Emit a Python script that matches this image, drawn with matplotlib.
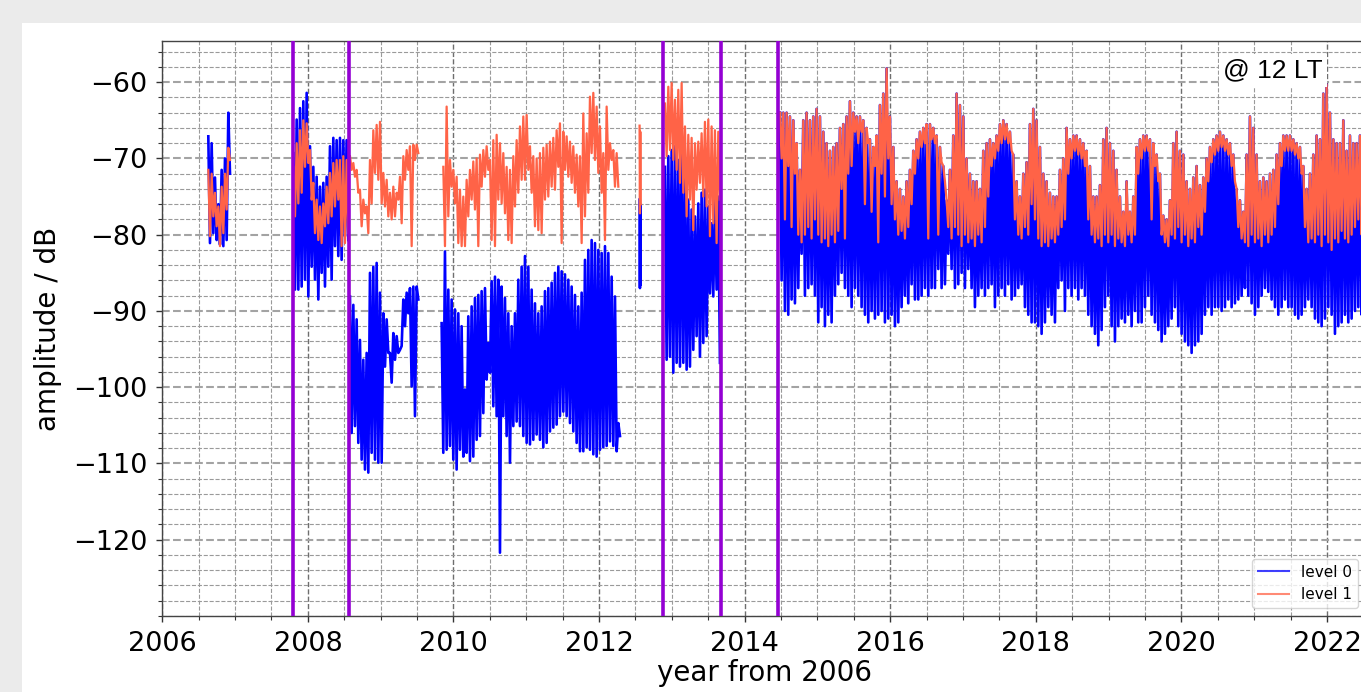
import numpy as np
import matplotlib
matplotlib.use("Agg")
import matplotlib.pyplot as plt
from matplotlib.patches import Rectangle
from matplotlib.ticker import MultipleLocator

# ---------------- data ----------------
# segment time spans (year)
seg_A = (2006.632, 2006.907)
seg_B = (2007.800, 2008.532)
seg_C = (2008.578, 2009.494)
seg_D0 = (2009.837, 2012.264)
seg_D1 = (2009.860, 2012.241)
seg_G = (2012.556, 2012.566)
seg_E = (2012.905, 2013.637)
seg_F = (2014.484, 2022.543)

event_years = [2007.791, 2008.569, 2012.873, 2013.670, 2014.462]

# level 0 (upper / lower excursions per sample)
l0_top_A = [-67.1, -68, -72.5, -76, -71.5, -70, -64]
l0_bot_A = [-81.1, -79.8, -80.7, -81.3, -81.5, -80.7, -72]
l1_top_A = [-71.5, -72, -74.5, -76.3, -73.7, -72, -68.6]
l1_bot_A = [-80.2, -77.6, -78.9, -81.5, -79.8, -76.7, -70.2]

l0_top_B = [-69.3, -64.9, -63.4, -62.5, -61.4, -68.4, -71.1, -72.4, -73.7, -73.2, -72.4, -68.4, -67.3, -67.6, -67.3, -67.6, -67.6]
l0_bot_B = [-87.2, -87.2, -86.8, -85.9, -88.1, -84.2, -85.9, -88.5, -85, -86.8, -84.2, -85.9, -81.5, -82.8, -83.3, -80.2, -80.7]
l1_top_B = [-71.1, -68, -66.3, -65, -65.4, -68.9, -73.2, -75.4, -76.3, -75.9, -73.7, -71.9, -70.6, -70.2, -70.2, -69.7, -70.2]
l1_bot_B = [-77.6, -75.9, -74.5, -71.1, -70.6, -75.4, -79.8, -80.7, -81.1, -78.9, -78.5, -77.6, -76.3, -75.4, -81.5, -81.1, -79.8]

l0_top_C = [-88.1, -89.2, -91.1, -93.8, -96.4, -95.5, -85, -84.2, -83.7, -87.6, -90.3, -91.1, -95.5, -92.9, -93.3, -95.1, -88.5, -87.6, -87, -86.8, -86.8]
l0_bot_C = [-106, -105.1, -107.3, -109.5, -110.8, -111.2, -108.6, -109.5, -109.9, -109.9, -97.3, -95.5, -99.4, -96.4, -95.5, -94.6, -92, -90.3, -99.9, -103.8, -88.5]
l1_top_C = [-69.7, -70.6, -71.5, -74.1, -75.4, -76.3, -70.2, -66.3, -65.6, -65.2, -71.9, -72.8, -74.5, -73.7, -74.5, -72.4, -69.7, -68.9, -68.4, -68.2, -68.2]
l1_bot_C = [-71.5, -72.4, -74.5, -78.9, -77.2, -79.8, -75.9, -71.9, -72.8, -75.9, -76.3, -77.6, -78, -77.6, -75.4, -78.5, -72.8, -71.5, -81.5, -70.2, -69.3]

l0_top_D = [-91.6, -82.2, -87.2, -88.5, -89.8, -90.3, -92, -100.3, -90.7, -89.4,
            -88.3, -87.9, -87.4, -87, -94.2, -86.1, -85.5, -85.9, -86.8, -88.3,
            -90.3, -92, -90.3, -85.9, -84.2, -82.8, -84.2, -87.2, -89, -90.3,
            -89.4, -87.4, -87, -86.3, -85, -84.2, -84.8, -85.2, -85.9, -86.8,
            -87.9, -89.4, -87.6, -83.3, -82, -80.7, -81.1, -82, -82.4, -81.5,
            -82.4, -85.5, -88.1, -104.7]
l0_bot_D = [-108.6, -108.2, -107.7, -109.5, -110.8, -108.2, -109.1, -108.6, -109.7, -109.1,
            -106.9, -106.4, -103.4, -99, -98.1, -102.5, -103.8, -121.7, -103.8, -106.4,
            -109.9, -105.1, -104.5, -105.1, -106.4, -107.3, -107.5, -106.9, -106.2, -106.9,
            -107.9, -107.3, -105.8, -105.3, -104.9, -103.8, -103.2, -103.8, -104.7, -105.8,
            -107.3, -108.4, -108.4, -107.9, -108.2, -108.8, -109.1, -108.2, -107.9, -107.7,
            -107.1, -107.7, -108.4, -106.4]
l1_top_D = [-71.1, -63.2, -70.2, -71.5, -72.4, -74.1, -75, -72.8, -71.5, -70.4,
            -70, -69.5, -68.9, -68.4, -70.2, -67.6, -66.9, -68, -69.3, -71.1,
            -71.5, -69.7, -67.6, -65.8, -64.5, -64.3, -68.4, -69.7, -70, -69.3,
            -68.6, -68.2, -67.8, -67.3, -66.3, -65.4, -66.5, -67.1, -67.8, -68.4,
            -69.5, -69.7, -64.1, -66.7, -61.9, -61.4, -63.2, -65.8, -69.3, -63.2,
            -68, -68.9, -69.3]
l1_bot_D = [-81.5, -77.6, -73.7, -75.9, -81.1, -81.5, -81.5, -77.6, -75.4, -76.7,
            -81.5, -73.7, -72.4, -71.5, -80.7, -81.5, -75.4, -75.9, -77.2, -80.7,
            -81.1, -76.3, -74.5, -72.8, -72.8, -71.5, -74.5, -78.9, -79.4, -79.8,
            -75.4, -75, -73.7, -74.1, -71.1, -81.1, -71.5, -72.4, -73.2, -74.5,
            -76.3, -81.1, -77.6, -74.5, -69.3, -70.2, -71.9, -74.5, -80.7, -71.5,
            -70.2, -73.7, -73.7]

l0_top_G = [-75.4, -76]
l0_bot_G = [-87, -86.5]
l1_top_G = [-65.7, -66.5]
l1_bot_G = [-77.2, -76]

l0_top_E = [-71.1, -69.7, -68.9, -68.4, -70.2, -68, -72.4, -75.4, -76.7, -77.6, -75.9, -74.5, -74.1, -76.3, -78.5, -75.4, -75]
l0_bot_E = [-96.4, -96, -98.1, -96.8, -97.3, -96.8, -97.7, -97.3, -95.1, -93.3, -96, -94.2, -93.3, -87.7, -88.1, -87.2, -96.8]
l1_top_E = [-62.8, -60.6, -60.1, -62.3, -61, -60.1, -65.8, -66.9, -67.3, -68, -67.8, -66.7, -65.2, -64.9, -65.8, -66.3, -66.5]
l1_bot_E = [-69.7, -68.9, -70.2, -71.5, -73.2, -74.5, -77.6, -75.4, -79.4, -74.1, -73.2, -75, -76.3, -80.2, -78.5, -81.1, -75.4]

# 2014.5 - 2022.5: common upper envelope, separate lower excursions
top_F = [-64, -64, -64, -64.5, -65, -68, -71.5, -65, -64, -65,
         -64.5, -63.5, -64.5, -66.5, -68, -69, -68.5, -68, -66, -65.5,
         -64.5, -62.5, -64, -64.5, -64.5, -65, -66, -67.5, -68.5, -67,
         -63, -61.5, -58.2, -64.5, -68.5, -73, -74, -75, -73, -71.5,
         -69, -67.5, -66.5, -66, -65.5, -65.5, -66, -67, -68.5, -71,
         -75.5, -71.5, -67, -61.5, -63, -64.5, -70, -72, -73, -73,
         -74, -69, -68, -67.5, -68, -67, -65.5, -65, -65.5, -66.5,
         -69.5, -73, -75, -72, -70.5, -65.5, -63.5, -65, -68.5, -72,
         -73, -74.5, -75, -75, -71.5, -70, -66,
         -67.5, -67, -67, -67.5, -68, -69, -71, -75, -75, -73.5,
         -67.5, -66, -68, -69, -71.5, -75, -77, -73, -77, -75,
         -68.5, -67.5, -67, -67, -67.5, -68, -69.5, -72, -77.5, -78,
         -75.5, -68, -66.5, -69, -69.5, -73, -74, -72.5, -71, -73.5,
         -72.5, -70, -68.5, -67.5, -67, -66.5, -67, -67.5, -68, -69.5,
         -74, -75.5, -77, -69.5, -64.5, -66, -69.5, -73, -72.5, -73,
         -72, -71.5, -69.5, -68, -67, -67, -67, -67.5, -68, -68.5,
         -71, -74, -72, -69.5, -67, -67.5, -61.5, -60.3, -64, -67.5,
         -68, -68, -65, -69, -67, -68, -68, -67, -66, -66.5]
l0_bot_F = [-86, -90, -90.5, -88.5, -89, -87, -82.5, -88, -87, -86.5,
            -88, -91.5, -89.5, -92, -90.5, -91.5, -88, -86.5, -85, -87,
            -88, -89.5, -87, -88, -89.5, -90.5, -91.5, -90, -91, -90.5,
            -90, -91.5, -91, -90.5, -92, -91.5, -89.5, -88, -89, -86.5,
            -88.5, -88.5, -88, -87, -88, -87, -87, -84.5, -87, -86.5,
            -82.5, -84.5, -87, -86.5, -85, -87, -84.5, -87, -89.5, -88,
            -87, -88, -87, -86.5, -89.5, -88, -87, -88, -86.5, -88.5,
            -88, -87, -86.5, -89.5, -90.5, -91.5, -91.5, -92, -93, -91.5,
            -89.5, -90.5, -91.5, -87, -86, -90, -87,
            -88, -87, -88.5, -87, -88, -90.5, -92, -93, -94.5, -92.5,
            -89.5, -88, -92, -94, -92, -91, -91.5, -90.5, -92, -90,
            -91.5, -91.5, -89.5, -88, -90.5, -91.5, -92.5, -94, -93, -92,
            -91, -89.5, -92, -93, -94, -94.5, -95.5, -94.5, -94, -93,
            -90.5, -89.5, -90.5, -89.5, -89.5, -90, -89.5, -88.5, -89.5, -89,
            -88.5, -88, -87, -88, -89, -90.5, -89.5, -88, -87, -87.5,
            -88.5, -89.5, -90.5, -89.5, -88.5, -89.5, -89.5, -90.5, -91, -90.5,
            -89.5, -88.5, -89.5, -91, -91.5, -92, -91, -89.5, -90.5, -93,
            -92, -91.5, -90.5, -91.5, -91, -90, -89.5, -90.5, -90, -91]
l1_bot_F = [-70, -78, -71, -79, -72, -80, -81, -80, -79, -80.5,
            -78, -80, -81, -80.5, -81.5, -80, -81, -79.5, -74, -80.5,
            -72, -71, -66.5, -68, -66.5, -76, -68, -77, -71, -81,
            -72, -75, -70, -76, -78, -80, -79.5, -80.5, -79, -76,
            -72, -70, -68.5, -68, -80.5, -67.5, -68, -80, -70.5, -73,
            -79, -80.5, -79, -80, -81.5, -80, -81, -80.5, -81.5, -80,
            -81, -79, -75, -71, -70, -69, -68, -67.5, -68, -69,
            -78, -80, -80.5, -79, -80, -76, -78, -80.5, -81.5, -81,
            -81.5, -80.5, -81, -80, -79, -78, -72,
            -70, -69, -69.5, -70, -71, -78, -80, -81, -80.5, -81.5,
            -80, -81, -80, -81.5, -80.5, -81, -81.5, -80, -81, -80,
            -72, -70, -69, -69, -78, -71, -73, -80, -81, -81.5,
            -80, -80.5, -79, -81, -80, -81.5, -80.5, -81, -79, -80,
            -77, -73, -70.5, -69.5, -69, -68.5, -69, -69.5, -71, -73,
            -79, -80.5, -81, -81.5, -80, -81, -80.5, -81.5, -80, -81,
            -80, -79, -76, -71, -69, -69, -69, -69.5, -70, -72,
            -79, -81, -80.5, -81, -80, -81.5, -80, -81, -82, -80.5,
            -81, -79.5, -80.5, -81, -80, -79, -78, -80, -77, -79]

x_ticks = [2006, 2008, 2010, 2012, 2014, 2016, 2018, 2020, 2022]
y_ticks = [-120, -110, -100, -90, -80, -70, -60]


def zigzag(span, hi, lo):
    t = np.linspace(span[0], span[1], len(hi))
    half = (span[1] - span[0]) / (len(hi) - 1) / 2
    x = np.column_stack([t, t + half]).ravel()
    y = np.column_stack([hi, lo]).ravel()
    return x, y


W, H = 1361, 692
fig = plt.figure(figsize=(W / 100, H / 100), dpi=100, facecolor='#ebebeb')
fig.patches.append(Rectangle((22 / W, 0), 1, 1 - 23 / H, transform=fig.transFigure,
                             facecolor='white', edgecolor='none', zorder=-10))
ax_left, ax_right, ax_top, ax_bot = 162.3, 1366, 41, 616
ax = fig.add_axes([ax_left / W, (H - ax_bot) / H, (ax_right - ax_left) / W, (ax_bot - ax_top) / H])
ax.set_zorder(5)
ax.patch.set_facecolor('white')

blue = '#0000ff'
orange = '#ff6347'
lw = 1.9

level0 = [(seg_A, l0_top_A, l0_bot_A), (seg_B, l0_top_B, l0_bot_B), (seg_C, l0_top_C, l0_bot_C),
          (seg_D0, l0_top_D, l0_bot_D), (seg_G, l0_top_G, l0_bot_G), (seg_E, l0_top_E, l0_bot_E),
          (seg_F, top_F, l0_bot_F)]
level1 = [(seg_A, l1_top_A, l1_bot_A), (seg_B, l1_top_B, l1_bot_B), (seg_C, l1_top_C, l1_bot_C),
          (seg_D1, l1_top_D, l1_bot_D), (seg_G, l1_top_G, l1_bot_G), (seg_E, l1_top_E, l1_bot_E),
          (seg_F, top_F, l1_bot_F)]

for i, (span, hi, lo) in enumerate(level0):
    x, y = zigzag(span, hi, lo)
    ax.plot(x, y, color=blue, lw=lw, label='level 0' if i == 0 else None, zorder=2)
for i, (span, hi, lo) in enumerate(level1):
    x, y = zigzag(span, hi, lo)
    ax.plot(x, y, color=orange, lw=lw * 0.85, label='level 1' if i == 0 else None, zorder=2.1)

for yr in event_years:
    ax.axvline(yr, color='darkviolet', lw=2.6, zorder=3)

ax.set_xlim(2006, 2006 + (ax_right - ax_left) / 72.8)
ax.set_ylim(-130, -54.6)
ax.set_xticks(x_ticks)
ax.set_yticks(y_ticks)
ax.xaxis.set_minor_locator(MultipleLocator(0.5))
ax.yaxis.set_minor_locator(MultipleLocator(2))

ax.grid(which='major', axis='y', ls='--', lw=1.5, color='#a3a3a3')
ax.grid(which='major', axis='x', ls='--', lw=1.0, color='#6e6e6e')
ax.grid(which='minor', axis='both', ls='--', lw=0.8, color='#9a9a9a')

ax.tick_params(which='major', length=4.5, width=1.0, labelsize=19.5, pad=6, color='#333333')
ax.tick_params(which='minor', length=2.9, width=0.8, color='#333333')
for sp in ax.spines.values():
    sp.set_color('#444444')
    sp.set_linewidth(1.0)

ax.set_xlabel('year from 2006', fontsize=20, labelpad=2)
ax.set_ylabel('amplitude / dB', fontsize=20, labelpad=8)

ax.text(0.9228, 0.9487, '@ 12 LT', transform=ax.transAxes, ha='center', va='center',
        fontsize=19, family='Liberation Sans',
        bbox=dict(facecolor='white', edgecolor='none', pad=3), zorder=5)

leg = ax.legend(loc='lower right', fontsize=11, framealpha=0.8)
for h in leg.get_lines():
    h.set_linewidth(1.5)
    h.set_alpha(0.75)

fig.savefig('out.png', dpi=100, facecolor=fig.get_facecolor())
